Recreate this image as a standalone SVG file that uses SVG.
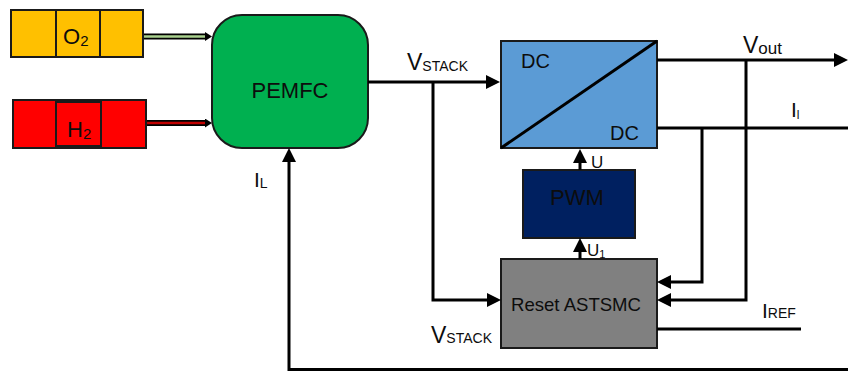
<svg xmlns="http://www.w3.org/2000/svg" width="848" height="371" viewBox="0 0 848 371">
<style>
text{font-family:"Liberation Sans",Arial,sans-serif;fill:#0d0d0d}
.box{stroke:#1a1a1a;stroke-width:2}
.w{stroke:#000;stroke-width:3;fill:none}
.big{font-size:21px}
.sub{font-size:14px}
</style>
<defs>
<marker id="ah" markerUnits="userSpaceOnUse" markerWidth="14" markerHeight="14" refX="6" refY="7" orient="auto" viewBox="0 0 14 14">
<path d="M0,0 L14,7 L0,14 z" fill="#000"/>
</marker>
<marker id="sah" markerUnits="userSpaceOnUse" markerWidth="7" markerHeight="9" refX="2" refY="4.5" orient="auto" viewBox="0 0 7 9">
<path d="M0,0 L7,4.5 L0,9 z" fill="#000"/>
</marker>
</defs>

<g id="o2">
<rect class="box" x="11" y="10" width="132" height="47" fill="#ffc000"/>
<rect class="box" x="56" y="10" width="44" height="47" fill="#ffc000"/>
<text x="63" y="44" font-size="22">O<tspan font-size="15" dy="2">2</tspan></text>
</g>
<g id="h2">
<rect class="box" x="13" y="100" width="133" height="48" fill="#ff0000"/>
<rect class="box" x="56" y="102" width="45" height="44" fill="#ff0000"/>
<text x="67" y="137" font-size="22">H<tspan font-size="15" dy="2">2</tspan></text>
</g>
<g id="pemfc">
<rect class="box" x="212" y="15" width="156" height="133" rx="30" ry="30" fill="#00b050"/>
<text x="290" y="98" font-size="22" text-anchor="middle">PEMFC</text>
</g>
<g id="dcdc">
<rect class="box" x="501" y="41" width="156" height="107" fill="#5b9bd5"/>
<line x1="501" y1="148" x2="657" y2="41" stroke="#000" stroke-width="3"/>
<text x="521" y="68" font-size="20">DC</text>
<text x="610" y="140" font-size="20">DC</text>
</g>
<g id="pwm">
<rect class="box" x="523" y="170" width="112" height="68" fill="#002060"/>
<text x="577" y="205" font-size="22" text-anchor="middle">PWM</text>
</g>
<g id="astsmc">
<rect class="box" x="501" y="259" width="156" height="89" fill="#808080"/>
<text x="576" y="311" font-size="19" text-anchor="middle" textLength="130" lengthAdjust="spacingAndGlyphs">Reset ASTSMC</text>
</g>

<g id="connectors">
<line x1="144" y1="36.5" x2="206" y2="36.5" stroke="#000" stroke-width="6"/>
<line x1="144" y1="36.5" x2="207" y2="36.5" stroke="#a9d18e" stroke-width="2.5" marker-end="url(#sah)"/>
<line x1="147" y1="123" x2="206" y2="123" stroke="#000" stroke-width="6"/>
<line x1="147" y1="123" x2="207" y2="123" stroke="#c00000" stroke-width="2.5" marker-end="url(#sah)"/>

<line class="w" x1="368" y1="82" x2="492" y2="82" marker-end="url(#ah)"/>
<polyline class="w" points="433,82 433,300 493,300" marker-end="url(#ah)"/>

<line class="w" x1="657" y1="60" x2="840" y2="60" marker-end="url(#ah)"/>
<line class="w" x1="657" y1="128" x2="848" y2="128"/>
<polyline class="w" points="746,60 746,300 665,300" marker-end="url(#ah)"/>
<polyline class="w" points="702,128 702,282 665,282" marker-end="url(#ah)"/>
<line class="w" x1="657" y1="329" x2="801" y2="329"/>

<line class="w" x1="580" y1="170" x2="580" y2="157" marker-end="url(#ah)"/>
<line class="w" x1="580" y1="259" x2="580" y2="246" marker-end="url(#ah)"/>

<polyline class="w" points="848,369.5 289,369.5 289,156" marker-end="url(#ah)"/>
</g>

<g id="labels">
<text x="407" y="70" font-size="23">V<tspan font-size="14" dy="1">STACK</tspan></text>
<text x="743" y="53" font-size="23">V<tspan font-size="17" dy="1">out</tspan></text>
<text x="791" y="117" font-size="21">I<tspan font-size="12" dy="2">l</tspan></text>
<text x="591" y="168" font-size="17">U</text>
<text x="587" y="256" font-size="17">U<tspan font-size="11" dy="2">1</tspan></text>
<text x="431" y="343" font-size="23">V<tspan font-size="14" dy="0">STACK</tspan></text>
<text x="762" y="318" font-size="21">I<tspan font-size="14" dy="0">REF</tspan></text>
<text x="254" y="187" font-size="21">I<tspan font-size="14" dy="1">L</tspan></text>
</g>
</svg>
